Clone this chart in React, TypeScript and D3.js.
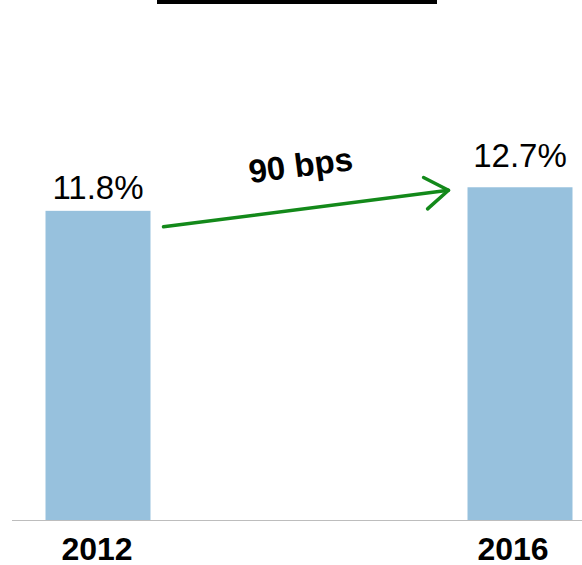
import * as d3 from 'd3';
import React, { useEffect } from 'react';

const years = ['2012', '2016'];
const shares = [11.8, 12.7];
const shareLabels = ['11.8%', '12.7%'];
const changeLabel = '90 bps';

const W = 582;
const H = 565;
const baseY = 520;
const barW = 105;
// small horizontal nudges of the category labels, as in the source slide
const yearShift = [-1, -7];

export default function App() {
  useEffect(() => {
    document.body.style.margin = '0';
  }, []);

  const x = d3.scalePoint<string>().domain(years).range([98, 520]);
  const y = d3.scaleLinear().domain([0, 14]).range([baseY, baseY - 14 * 26.2]);

  // arrow from the right of the first bar to the left of the second
  const x1 = (x(years[0]) as number) + barW / 2 + 13;
  const y1 = y(shares[0]) + 16;
  const x2 = (x(years[1]) as number) - barW / 2 - 19;
  const y2 = y(shares[1]) + 3;
  const ang = Math.atan2(y2 - y1, x2 - x1);
  const head = 28;
  const spread = 0.6;
  const hx1 = x2 - head * Math.cos(ang - spread);
  const hy1 = y2 - head * Math.sin(ang - spread);
  const hx2 = x2 - head * Math.cos(ang + spread);
  const hy2 = y2 - head * Math.sin(ang + spread);
  const midX = (x1 + x2) / 2;
  const midY = (y1 + y2) / 2;
  const deg = (ang * 180) / Math.PI;

  return (
    <svg
      width={W}
      height={H}
      style={{ position: 'absolute', left: 0, top: 0, fontFamily: 'Arial, "Liberation Sans", sans-serif' }}
    >
      <rect x={0} y={0} width={W} height={H} fill="#ffffff" />
      <rect x={157} y={0} width={280} height={4} fill="#000000" />

      {years.map((yr, i) => (
        <rect
          key={yr}
          x={(x(yr) as number) - barW / 2}
          y={y(shares[i])}
          width={barW}
          height={baseY - y(shares[i])}
          fill="#97c1dd"
        />
      ))}

      <line x1={12} x2={W} y1={baseY + 0.5} y2={baseY + 0.5} stroke="#bdbdbd" strokeWidth={1} />

      {years.map((yr, i) => (
        <text
          key={'v' + yr}
          x={x(yr) as number}
          y={y(shares[i]) - (i === 0 ? 12 : 20)}
          textAnchor="middle"
          fontSize={33}
          fill="#000"
        >
          {shareLabels[i]}
        </text>
      ))}

      {years.map((yr, i) => (
        <text
          key={'c' + yr}
          x={(x(yr) as number) + yearShift[i]}
          y={560}
          textAnchor="middle"
          fontSize={32}
          fontWeight="bold"
          fill="#000"
        >
          {yr}
        </text>
      ))}

      <g stroke="#13891a" strokeWidth={3.5} fill="none" strokeLinecap="round" strokeLinejoin="round">
        <line x1={x1} y1={y1} x2={x2} y2={y2} />
        <polyline points={`${hx1},${hy1} ${x2},${y2} ${hx2},${hy2}`} />
      </g>

      <text
        transform={`translate(${midX - 4},${midY - 32}) rotate(${deg})`}
        textAnchor="middle"
        fontSize={33}
        fontWeight="bold"
        fill="#000"
      >
        {changeLabel}
      </text>
    </svg>
  );
}
